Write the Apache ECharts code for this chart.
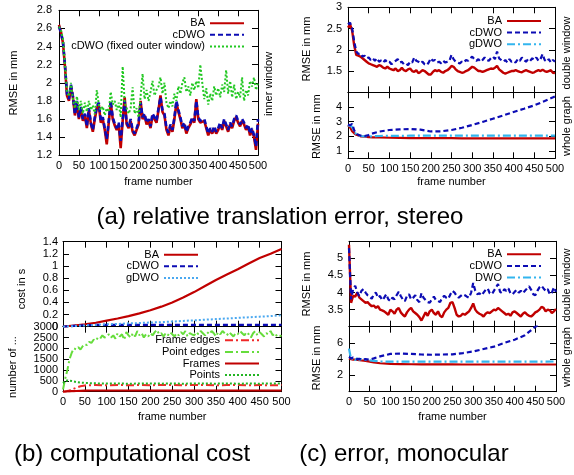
<!DOCTYPE html>
<html><head><meta charset="utf-8">
<script src="https://cdn.jsdelivr.net/npm/echarts@6/dist/echarts.min.js"></script>
<style>html,body{margin:0;padding:0;background:#fff}#c{width:574px;height:475px}</style>
</head><body><div id="c"></div>
<script>
// ---------- sampling grids (frame numbers) ----------
const frames5 = Array.from({length:101}, (_, i) => i * 5);
const frames25 = Array.from({length:21}, (_, i) => i * 25);
const framesS = [0,5,10,15,20,25,30,40,50,60,75,100,125,150,175,200,225,250,275,300,325,350,375,400,425,450,475,500];

// ---------- (a) left: inner window, stereo ----------
const aInnerBA = [2.64,2.56,2.44,2.18,1.86,1.8,1.96,1.84,1.64,1.78,
 1.6,1.72,1.58,1.64,1.5,1.7,1.55,1.46,1.6,1.72,
 1.76,1.56,1.6,1.48,1.32,1.56,1.78,1.6,1.53,1.48,
 1.54,1.28,1.58,1.84,1.54,1.5,1.58,1.46,1.42,1.48,
 1.54,1.8,1.6,1.64,1.54,1.58,1.5,1.64,1.6,1.56,
 1.7,1.86,1.68,1.64,1.48,1.42,1.52,1.46,1.6,1.78,
 1.68,1.6,1.5,1.54,1.44,1.5,1.54,1.6,1.56,1.82,
 1.6,1.56,1.54,1.58,1.5,1.42,1.48,1.44,1.5,1.44,
 1.48,1.54,1.48,1.58,1.52,1.46,1.54,1.5,1.58,1.62,
 1.56,1.52,1.58,1.54,1.48,1.52,1.42,1.48,1.4,1.26,1.55];
const aInnerCDWO = [2.62,2.55,2.45,2.2,1.88,1.82,1.98,1.85,1.65,1.8,
 1.62,1.74,1.6,1.66,1.52,1.72,1.56,1.48,1.62,1.74,
 1.78,1.58,1.62,1.5,1.38,1.58,1.8,1.62,1.55,1.5,
 1.56,1.36,1.6,1.8,1.56,1.52,1.6,1.48,1.44,1.5,
 1.56,1.78,1.62,1.66,1.56,1.6,1.52,1.66,1.62,1.58,
 1.72,1.84,1.7,1.66,1.5,1.45,1.54,1.48,1.62,1.8,
 1.7,1.62,1.52,1.56,1.46,1.52,1.56,1.62,1.58,1.8,
 1.62,1.58,1.56,1.6,1.52,1.44,1.5,1.46,1.52,1.46,
 1.5,1.56,1.5,1.6,1.54,1.48,1.56,1.52,1.6,1.64,
 1.58,1.54,1.6,1.56,1.5,1.54,1.44,1.5,1.42,1.3,1.6];
const aInnerFixed = [2.62,2.58,2.48,2.2,1.9,1.85,2.0,1.82,1.72,1.85,
 1.7,1.8,1.66,1.78,1.68,1.8,1.7,1.75,1.65,1.92,
 1.76,1.7,1.74,1.64,1.72,1.68,1.9,1.76,1.8,1.7,
 1.78,1.62,2.18,1.78,1.72,1.66,1.72,1.95,1.66,1.72,
 1.62,1.85,2.1,1.82,1.92,1.8,1.9,2.02,1.86,1.92,
 1.96,2.06,1.88,2.0,1.78,1.72,1.8,1.74,1.88,1.8,
 1.96,1.88,2.0,2.06,1.9,1.96,1.86,2.0,1.92,2.02,
 1.94,2.2,2.0,1.82,1.94,1.76,1.88,1.8,1.96,1.86,
 1.94,1.84,1.98,1.9,2.14,1.88,2.02,1.84,1.98,1.82,
 1.9,1.84,2.06,1.8,1.92,1.86,2.02,1.96,2.06,1.92,2.0];

// ---------- (a) right: double window / whole graph ----------
const aDoubleBA = [2.52,2.6,2.45,2.1,1.88,1.86,1.84,1.8,1.76,1.72,
 1.68,1.66,1.64,1.62,1.6,1.64,1.62,1.58,1.56,1.6,
 1.56,1.54,1.52,1.56,1.5,1.52,1.58,1.52,1.5,1.54,
 1.56,1.5,1.48,1.52,1.45,1.48,1.52,1.5,1.46,1.42,
 1.42,1.48,1.52,1.5,1.52,1.48,1.46,1.5,1.52,1.56,
 1.62,1.6,1.54,1.5,1.48,1.46,1.47,1.5,1.52,1.56,
 1.6,1.58,1.54,1.5,1.5,1.48,1.5,1.52,1.54,1.56,
 1.55,1.58,1.62,1.54,1.5,1.46,1.44,1.46,1.48,1.5,
 1.5,1.52,1.5,1.48,1.47,1.5,1.52,1.5,1.48,1.46,
 1.47,1.5,1.52,1.5,1.53,1.5,1.48,1.5,1.52,1.46,1.45];
const aDoubleCDWO = [2.6,2.64,2.5,2.2,1.96,1.9,1.92,1.84,1.86,1.8,
 1.82,1.76,1.8,1.74,1.8,1.72,1.75,1.7,1.76,1.7,
 1.72,1.66,1.7,1.74,1.78,1.7,1.72,1.66,1.68,1.64,
 1.72,1.7,1.82,1.74,1.72,1.68,1.72,1.66,1.64,1.7,
 1.8,1.74,1.76,1.7,1.72,1.68,1.74,1.7,1.72,1.74,
 1.88,1.78,1.72,1.7,1.68,1.72,1.7,1.76,1.74,1.8,
 1.84,1.78,1.74,1.78,1.72,1.76,1.82,1.76,1.74,1.8,
 1.84,1.78,1.96,1.8,1.76,1.72,1.76,1.7,1.78,1.72,
 1.74,1.7,1.78,1.74,1.82,1.76,1.72,1.78,1.74,1.8,
 1.76,1.82,1.74,1.78,1.9,1.76,1.72,1.78,1.7,1.76,1.72];
const aWholeBA   = [2.75,2.6,2.35,2.2,2.1,2.05,2.0,1.97,1.95,1.93,1.92,1.9,1.89,1.88,1.88,1.87,1.87,1.87,1.86,1.86,1.86,1.86,1.86,1.86,1.86,1.86,1.86,1.86];
const aWholeCDWO = [2.8,2.75,2.85,2.4,2.2,2.1,2.05,2.02,2.08,2.2,2.32,2.43,2.47,2.5,2.45,2.33,2.34,2.43,2.58,2.77,2.98,3.2,3.42,3.66,3.88,4.11,4.4,4.72];
const aWholeGDWO = [2.75,2.7,2.65,2.3,2.15,2.08,2.02,2.0,1.98,2.0,2.02,2.03,2.03,2.04,2.04,2.04,2.04,2.04,2.04,2.04,2.04,2.04,2.04,2.04,2.04,2.04,2.04,2.04];

// ---------- (b) computational cost ----------
const costBA   = [0,0.02,0.04,0.065,0.1,0.135,0.175,0.22,0.27,0.33,0.4,0.48,0.57,0.67,0.77,0.86,0.945,1.04,1.13,1.2,1.28];
const costCDWO = [0,0.015,0.025,0.03,0.03,0.03,0.03,0.03,0.03,0.03,0.03,0.03,0.03,0.03,0.03,0.03,0.03,0.03,0.03,0.03,0.03];
const costGDWO = [0,0.01,0.02,0.03,0.04,0.045,0.055,0.06,0.07,0.075,0.085,0.095,0.105,0.115,0.125,0.135,0.145,0.155,0.165,0.175,0.19];
const nFrameEdges = [0,10,30,60,100,140,180,250,290,300,305,300,310,300,305,300,310,305,300,310,305,300,305,310,300,305,300,305];
const nPointEdges = [100,600,1000,1500,1800,2000,1950,2050,1950,2100,
 2200,2150,2300,2250,2400,2350,2500,2450,2600,2500,
 2550,2650,2500,2600,2450,2700,2550,2650,2400,2750,
 2600,2500,2700,2550,2800,2600,2700,2500,2650,2550,
 2700,2600,2750,2850,2650,2700,2550,2700,2600,2750,
 2650,2550,2700,2600,2750,2650,2800,2550,2700,2650,
 2600,2750,2650,2800,2700,2600,2750,2650,2800,2700,
 2550,2750,2650,2800,2700,2600,2750,2650,2550,2700,
 2650,2800,2700,2600,2750,2650,2500,2700,2800,2600,
 2750,2650,2550,2700,2650,2800,2600,2700,2550,2600,2550];
const nFrames = [2,7,12,17,22,27,32,42,52,55,55,55,55,55,55,55,55,55,55,55,55,55,55,55,55,55,55,55];
const nPoints = [400,500,520,505,490,470,450,425,405,395,385,375,380,370,375,380,372,378,370,380,375,372,378,370,376,372,378,374];

// ---------- (c) monocular ----------
const cDoubleBA = [5.4,3.7,3.9,3.88,4.0,3.85,3.8,3.75,3.7,3.72,
 3.65,3.6,3.62,3.55,3.6,3.5,3.48,3.45,3.4,3.35,
 3.5,3.45,3.38,3.5,3.55,3.42,3.35,3.3,3.42,3.5,
 3.55,3.45,3.4,3.35,3.28,3.18,3.3,3.42,3.32,3.45,
 3.5,3.4,3.35,3.45,3.32,3.28,3.42,3.5,3.55,3.7,
 3.72,3.55,3.35,3.3,3.32,3.38,3.35,3.4,3.45,3.55,
 3.68,3.5,3.42,3.38,3.35,3.3,3.38,3.42,3.4,3.45,
 3.5,3.48,3.55,3.5,3.45,3.4,3.35,3.38,3.32,3.42,
 3.45,3.4,3.35,3.3,3.38,3.42,3.36,3.32,3.3,3.35,
 3.42,3.45,3.5,3.58,3.55,3.45,3.5,3.48,3.4,3.45,3.52];
const cDoubleCDWO = [5.3,3.8,4.1,4.2,4.0,3.9,4.05,4.1,4.0,3.92,
 3.88,3.82,3.95,4.0,3.85,3.9,3.78,3.85,3.95,3.8,
 3.75,3.85,3.8,3.92,4.02,3.9,3.8,3.75,3.9,3.95,
 3.8,3.85,3.92,3.78,3.72,3.98,3.85,3.78,3.72,3.7,
 3.8,3.88,3.78,3.75,3.72,3.85,3.9,3.85,3.82,3.95,
 4.05,4.0,3.9,3.85,3.9,3.95,3.92,3.88,3.85,4.0,
 4.28,4.05,3.95,3.98,3.92,4.0,4.08,4.12,3.98,3.95,
 4.05,4.15,4.25,4.02,3.98,4.1,4.05,4.12,3.98,3.95,
 4.02,4.08,4.0,4.05,3.98,4.05,4.12,4.18,4.08,3.95,
 3.92,4.05,4.15,4.2,4.12,4.05,4.1,3.95,4.0,4.15,4.02];
const cWholeBA   = [4.1,4.0,3.95,3.95,3.9,3.88,3.85,3.8,3.7,3.6,3.5,3.42,3.4,3.38,3.37,3.36,3.36,3.36,3.35,3.35,3.35,3.35,3.35,3.35,3.35,3.35,3.35,3.35];
const cWholeCDWO = [4.3,4.1,4.2,4.1,4.0,4.05,3.95,4.0,3.95,4.1,4.35,4.65,4.7,4.65,4.58,4.55,4.58,4.6,4.75,4.95,5.25,5.55,6.0,6.4,6.95,8.0,8.8,9.5];
const cWholeDWO  = [5.3,4.0,4.2,3.9,4.1,3.95,4.0,3.9,3.85,3.8,3.72,3.7,3.7,3.7,3.7,3.7,3.7,3.7,3.7,3.7,3.7,3.7,3.7,3.7,3.7,3.7,3.7,3.72];

// ---------- tick labels ----------
const xTicks = [0,50,100,150,200,250,300,350,400,450,500];
const yTicks = [
  [1.2,1.4,1.6,1.8,2,2.2,2.4,2.6,2.8],
  [1.5,2,2.5,3],
  [1,2,3,4],
  [0,0.2,0.4,0.6,0.8,1,1.2,1.4],
  [0,500,1000,1500,2000,2500,3000],
  [3.5,4,4.5,5],
  [2,4,6]
];

// ---------- layout ----------
const FONT = 'Liberation Sans, Arial, Helvetica, sans-serif';
const GRIDS = [
  {left:59, top:10.3, width:199, height:145},
  {left:348, top:7.3, width:207, height:85},
  {left:348, top:92.3, width:207, height:66},
  {left:63, top:241.7, width:218.5, height:85},
  {left:63, top:326.7, width:218.5, height:65},
  {left:349, top:241.3, width:207, height:85.4},
  {left:349, top:326.7, width:207, height:65}
];
const YRANGE = [[1.2,2.8],[1,3],[0.5,5],[0,1.4],[0,3000],[3,5.5],[0,8]];
const XLAB = [true,false,true,false,true,false,true];
const XNAMEGAP = [21,0,18,0,20,0,20];
const YMARGIN = [7,6,6,5,5,6,6];

const xAxes = [], yAxes = [];
const lineBlack = {color:'#000', width:1};
GRIDS.forEach((g, i) => {
  const tick = {show:true, inside:true, length:6, lineStyle:lineBlack};
  xAxes.push({type:'value', gridIndex:i, position:'bottom', min:0, max:500,
    axisLine:{show:true, onZero:false, lineStyle:lineBlack},
    axisTick:Object.assign({customValues:xTicks}, tick),
    axisLabel:{show:XLAB[i], customValues:xTicks, color:'#000', fontSize:11, fontFamily:FONT, margin:5},
    splitLine:{show:false},
    name: XLAB[i] ? 'frame number' : '',
    nameLocation:'middle', nameGap:XNAMEGAP[i],
    nameTextStyle:{color:'#000', fontSize:11, fontFamily:FONT}});
  xAxes.push({type:'value', gridIndex:i, position:'top', min:0, max:500,
    axisLine:{show:true, onZero:false, lineStyle:lineBlack},
    axisTick:Object.assign({customValues:xTicks}, tick),
    axisLabel:{show:false}, splitLine:{show:false}});
  yAxes.push({type:'value', gridIndex:i, position:'left', min:YRANGE[i][0], max:YRANGE[i][1],
    axisLine:{show:true, onZero:false, lineStyle:lineBlack},
    axisTick:Object.assign({customValues:yTicks[i]}, tick),
    axisLabel:{show:true, customValues:yTicks[i], formatter:v => String(v), color:'#000', fontSize:11, fontFamily:FONT, margin:YMARGIN[i]},
    splitLine:{show:false}});
  yAxes.push({type:'value', gridIndex:i, position:'right', min:YRANGE[i][0], max:YRANGE[i][1],
    axisLine:{show:true, onZero:false, lineStyle:lineBlack},
    axisTick:Object.assign({customValues:yTicks[i]}, tick),
    axisLabel:{show:false}, splitLine:{show:false}});
});

// ---------- colours / styles ----------
const RED = '#c00000', BLUE = '#0c0cb4', GREEN = '#22c822', CYAN = '#33b5ee';
const LBLUE = '#4aa8f0', RED2 = '#f02828', LGREEN = '#66dd3c', GREEN2 = '#22b522';
const DASH = [5,3], DOT = [2,2], DASHDOT = [8,3,2,3];

function ser(name, grid, xs, ys, color, type, width) {
  return {type:'line', name:name, xAxisIndex:grid*2, yAxisIndex:grid*2,
    data: xs.map((x, k) => [x, ys[k]]), symbol:'none', silent:true, clip:true,
    lineStyle:{color:color, width:width || 2, type:type}, itemStyle:{color:color}};
}
const series = [
  ser('BA|a', 0, frames5, aInnerBA, RED, 'solid', 2.6),
  ser('cDWO|a', 0, frames5, aInnerCDWO, BLUE, DASH, 2.6),
  ser('cDWO (fixed outer window)|a', 0, frames5, aInnerFixed, GREEN, DOT, 2),
  ser('BA|ar', 1, frames5, aDoubleBA, RED, 'solid', 2.4),
  ser('cDWO|ar', 1, frames5, aDoubleCDWO, BLUE, DASH, 2.2),
  ser('BA|ar2', 2, framesS, aWholeBA, RED, 'solid', 2.2),
  ser('gDWO|ar', 2, framesS, aWholeGDWO, CYAN, DASHDOT, 2.2),
  ser('cDWO|ar2', 2, framesS, aWholeCDWO, BLUE, DASH, 2.2),
  ser('BA|b', 3, frames25, costBA, RED, 'solid', 2.2),
  ser('cDWO|b', 3, frames25, costCDWO, BLUE, DASH, 2.2),
  ser('gDWO|b', 3, frames25, costGDWO, LBLUE, DOT, 2),
  ser('Frame edges|b', 4, framesS, nFrameEdges, RED2, DASHDOT, 2),
  ser('Point edges|b', 4, frames5, nPointEdges, LGREEN, DASHDOT, 2),
  ser('Frames|b', 4, framesS, nFrames, RED, 'solid', 2.2),
  ser('Points|b', 4, framesS, nPoints, GREEN2, DOT, 2),
  ser('BA|c', 5, frames5, cDoubleBA, RED, 'solid', 2.4),
  ser('cDWO|c', 5, frames5, cDoubleCDWO, BLUE, DASH, 2.2),
  ser('BA|c2', 6, framesS, cWholeBA, RED, 'solid', 2.2),
  ser('DWO|c', 6, framesS, cWholeDWO, CYAN, DASHDOT, 2.2),
  ser('cDWO|c2', 6, framesS, cWholeCDWO, BLUE, DASH, 2.2)
];

function legend(names, right, top) {
  return {data:names, orient:'vertical', align:'right', right:right, top:top, padding:0,
    itemWidth:34, itemHeight:10, itemGap:0.6, selectedMode:false,
    itemStyle:{opacity:0, borderWidth:0},
    formatter: n => n.split('|')[0],
    textStyle:{color:'#000', fontSize:11, lineHeight:10, fontFamily:FONT}};
}
const legends = [
  legend(['BA|a','cDWO|a','cDWO (fixed outer window)|a'], 329, 17.7),
  legend(['BA|ar','cDWO|ar','gDWO|ar'], 32, 15.5),
  legend(['BA|b','cDWO|b','gDWO|b'], 375, 249.2),
  legend(['Frame edges|b','Point edges|b','Frames|b','Points|b'], 314, 334.8),
  legend(['BA|c','cDWO|c','DWO|c'], 32, 248.8)
];

function txt(s, x, y, size, rot) {
  return {type:'text', x:x, y:y, rotation:rot ? Math.PI/2 : 0, silent:true,
    style:{text:s, fill:'#000', fontSize:size, fontFamily:FONT, align:'center', verticalAlign:'middle'}};
}
const graphics = [
  txt('RMSE in mm', 14, 83, 11, true),
  txt('inner window', 269, 84, 11, true),
  txt('RMSE in mm', 307, 49, 11, true),
  txt('RMSE in mm', 317, 126.7, 11, true),
  txt('double window', 567, 53, 11, true),
  txt('whole graph', 567, 126, 11, true),
  txt('cost in s', 21.7, 289, 11, true),
  txt('number of ...', 12.7, 367, 11, true),
  txt('RMSE in mm', 307, 284, 11, true),
  txt('RMSE in mm', 317, 358, 11, true),
  txt('double window', 567, 285, 11, true),
  txt('whole graph', 567, 357, 11, true),
  txt('(a) relative translation error, stereo', 280, 217, 24, false),
  txt('(b) computational cost', 132, 454, 24, false),
  txt('(c) error, monocular', 404, 454, 24, false)
];

const chart = echarts.init(document.getElementById('c'), null, {renderer:'canvas'});
chart.setOption({
  animation:false, backgroundColor:'#fff',
  grid: GRIDS.map(g => Object.assign({containLabel:false}, g)),
  xAxis: xAxes, yAxis: yAxes, legend: legends, series: series, graphic: graphics
});
</script></body></html>
